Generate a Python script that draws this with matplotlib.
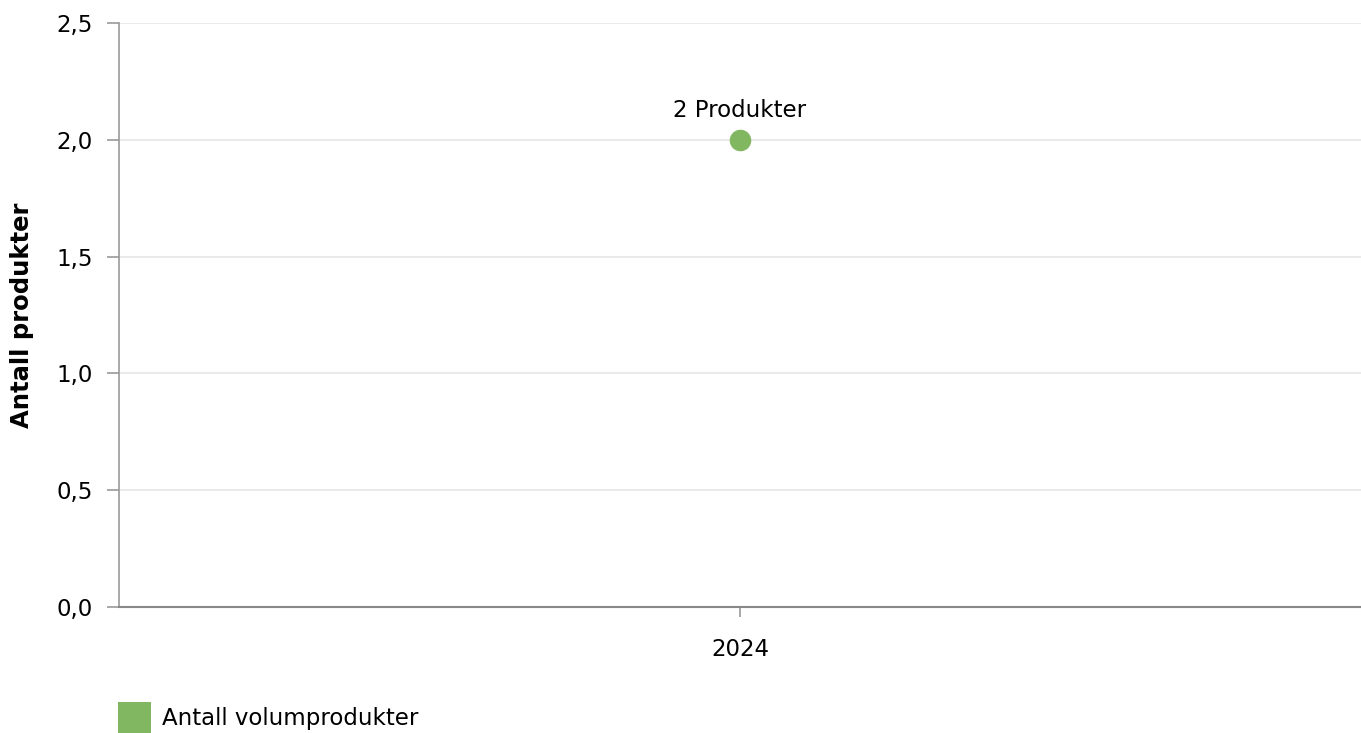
import matplotlib
matplotlib.use("Agg")
import matplotlib.pyplot as plt
from matplotlib.patches import Patch

# data
years = ["2024"]
products = [2]
point_labels = ["2 Produkter"]
series_name = "Antall volumprodukter"

green = "#82b762"
axis_grey = "#999999"
grid_grey = "#e6e6e6"

plt.rcParams["font.family"] = ["DejaVu Sans"]

fig = plt.figure(figsize=(13.61, 7.33), dpi=100)
ax = fig.add_axes([119 / 1361, 1 - 607 / 733, (1361 - 119) / 1361, (607 - 23) / 733])

x_pos = list(range(len(years)))
ax.plot(x_pos, products, "o", color=green, markersize=14.5, zorder=3, clip_on=False)

# data labels above the point
for x, y, lab in zip(x_pos, products, point_labels):
    ax.annotate(lab, (x, y), xytext=(0, 13), textcoords="offset points",
                ha="center", va="bottom", fontsize=16.5, color="black")

ax.set_xlim(-0.5, len(years) - 0.5)
ax.set_ylim(0, 2.5)
ax.set_xticks(x_pos)
ax.set_xticklabels(years)
yt = [0, 0.5, 1.0, 1.5, 2.0, 2.5]
ax.set_yticks(yt)
ax.set_yticklabels([f"{v:.1f}".replace(".", ",") for v in yt])

ax.grid(axis="y", color=grid_grey, linewidth=1.2)
ax.set_axisbelow(True)
for side in ["top", "right"]:
    ax.spines[side].set_visible(False)
ax.spines["left"].set_color(axis_grey)
ax.spines["left"].set_linewidth(1.2)
ax.spines["bottom"].set_color("#888888")
ax.spines["bottom"].set_linewidth(1.5)
ax.tick_params(axis="y", length=9, width=1.2, color=axis_grey, labelsize=16.5, pad=10)
ax.tick_params(axis="x", length=7, width=1.2, color=axis_grey, labelsize=16.5, pad=15)

ax.set_ylabel("Antall produkter", fontsize=17.5, fontweight="bold", labelpad=16)

# legend below the plot
handle = Patch(facecolor=green, edgecolor="none", label=series_name)
fig.legend(handles=[handle], loc="upper left", bbox_to_anchor=(118 / 1361, 1 - 702 / 733),
           frameon=False, fontsize=16.5, borderpad=0, borderaxespad=0,
           handlelength=1.45, handleheight=1.75, handletextpad=0.45)

fig.savefig("out.png", dpi=100)
